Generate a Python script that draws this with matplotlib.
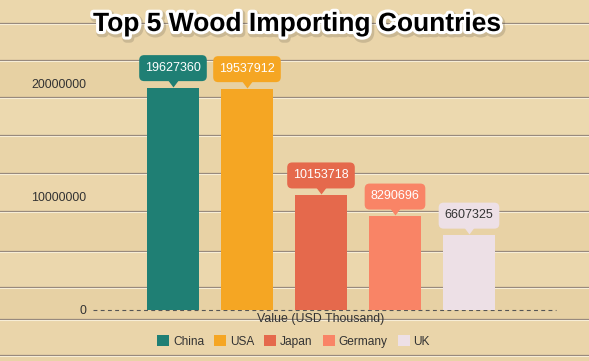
import matplotlib
matplotlib.use('Agg')
import matplotlib.pyplot as plt
import matplotlib.patheffects as pe
from matplotlib.transforms import offset_copy, ScaledTranslation
from matplotlib.patches import Rectangle, Patch, FancyBboxPatch
from matplotlib.lines import Line2D

countries = ['China', 'USA', 'Japan', 'Germany', 'UK']
values = [19627360, 19537912, 10153718, 8290696, 6607325]
colors = ['#1F7F74', '#F5A623', '#E5694C', '#F98466', '#EDE0E6']
label_text_colors = ['white', 'white', 'white', 'white', '#333333']
yticks = [0, 10000000, 20000000]
title = 'Top 5 Wood Importing Countries'
xlabel = 'Value (USD Thousand)'

plt.rcParams['font.family'] = ['Liberation Sans', 'DejaVu Sans']

W, H = 589, 361
DPI = 100
fig = plt.figure(figsize=(W / DPI, H / DPI), dpi=DPI)
fig.patch.set_facecolor('#E8D2A5')

# wood plank background
plank_edges = [0, 23, 60, 97, 135, 173, 211, 251, 287, 319, 355, 361]
shades = ['#EBD7AC', '#EAD5AA', '#E7D1A3', '#ECD9AF', '#E9D4A8', '#EBD6AB',
          '#E8D2A5', '#EBD7AD', '#E7D1A4', '#EAD5AA', '#E9D3A7']
for (y0, y1), sh in zip(zip(plank_edges[:-1], plank_edges[1:]), shades):
    fig.add_artist(Rectangle((0, 1 - y1 / H), 1, (y1 - y0) / H,
                             transform=fig.transFigure, color=sh, zorder=-10, lw=0))
for y in plank_edges[1:-1]:
    fig.add_artist(Line2D([0, 1], [1 - y / H, 1 - y / H], transform=fig.transFigure,
                          color='#938579', lw=0.9, zorder=-9))
    fig.add_artist(Line2D([0, 1], [1 - (y + 1.2) / H, 1 - (y + 1.2) / H],
                          transform=fig.transFigure, color='#F7EDD6', lw=0.8, zorder=-9))

ymax = 22000000
ax_left, ax_right, ax_zero = 93, 556, 310
px_per_unit = 113.3 / 1e7
ax_top = ax_zero - ymax * px_per_unit
ax = fig.add_axes([ax_left / W, 1 - ax_zero / H, (ax_right - ax_left) / W, (ax_zero - ax_top) / H])
ax.set_facecolor('none')
for s in ax.spines.values():
    s.set_visible(False)

x = list(range(len(countries)))
ax.bar(x, values, width=52 / 74, color=colors, zorder=3)
ax.set_xlim((ax_left - 173) / 74, (ax_right - 173) / 74)
ax.set_ylim(0, ymax)
ax.set_yticks(yticks)
ax.set_yticklabels([str(t) for t in yticks])
ax.tick_params(axis='y', length=0, pad=5, labelsize=8.9, labelcolor='#333333')
ax.set_xticks([])
ax.axhline(0, color='#555555', lw=0.8, ls=(0, (3.5, 3)), zorder=2, clip_on=False)

# value labels: rounded box + pointer, sized in pixels relative to bar top
pointer = [(-0.75, 1.0), (0.75, 1.0), (0.0, 0.0)]
px = 1.0 / DPI  # one pixel in inches
for i, (v, c, tc) in enumerate(zip(values, colors, label_text_colors)):
    lab = str(v)
    trans = fig.dpi_scale_trans + ScaledTranslation(i, v, ax.transData)
    bw = (len(lab) * 0.556 * 12.5 + 12) * px
    box = FancyBboxPatch((-bw / 2, 6.5 * px), bw, 26 * px,
                         boxstyle='round,pad=0,rounding_size=%f' % (5 * px),
                         transform=trans, fc=c, ec='none', zorder=5, clip_on=False)
    ax.add_patch(box)
    ax.text(0, 19.8 * px, lab, transform=trans, ha='center', va='center',
            fontsize=9, color=tc, zorder=6, clip_on=False)
    tr = offset_copy(ax.transData, fig=fig, x=0, y=1, units='dots')
    ax.plot([i], [v], marker=pointer, ms=10, color=c, mec='none', transform=tr,
            zorder=4, clip_on=False)

ax.annotate(xlabel, xy=(2, 0), xycoords=('data', 'axes fraction'),
            xytext=(0, -6.5), textcoords='offset points', ha='center', va='center',
            fontsize=8.9, color='#333333')

# title
fig.text(297 / W, 1 - 24 / H, title, ha='center', va='center', fontsize=19,
         fontweight='bold', color='black',
         path_effects=[pe.Stroke(linewidth=6, foreground='#00000022', offset=(1, -1.5)),
                       pe.withStroke(linewidth=4.5, foreground='white')])

# legend
handles = [Patch(facecolor=c, edgecolor='none') for c in colors]
fig.legend(handles, countries, loc='center', bbox_to_anchor=(293.5 / W, 1 - 341.7 / H),
           ncol=5, frameon=False, fontsize=8.6, handlelength=1.0, handleheight=1.0,
           handletextpad=0.33, columnspacing=0.84, labelcolor='#333333',
           borderaxespad=0, borderpad=0)

fig.savefig('out.png', dpi=DPI, facecolor=fig.get_facecolor())
